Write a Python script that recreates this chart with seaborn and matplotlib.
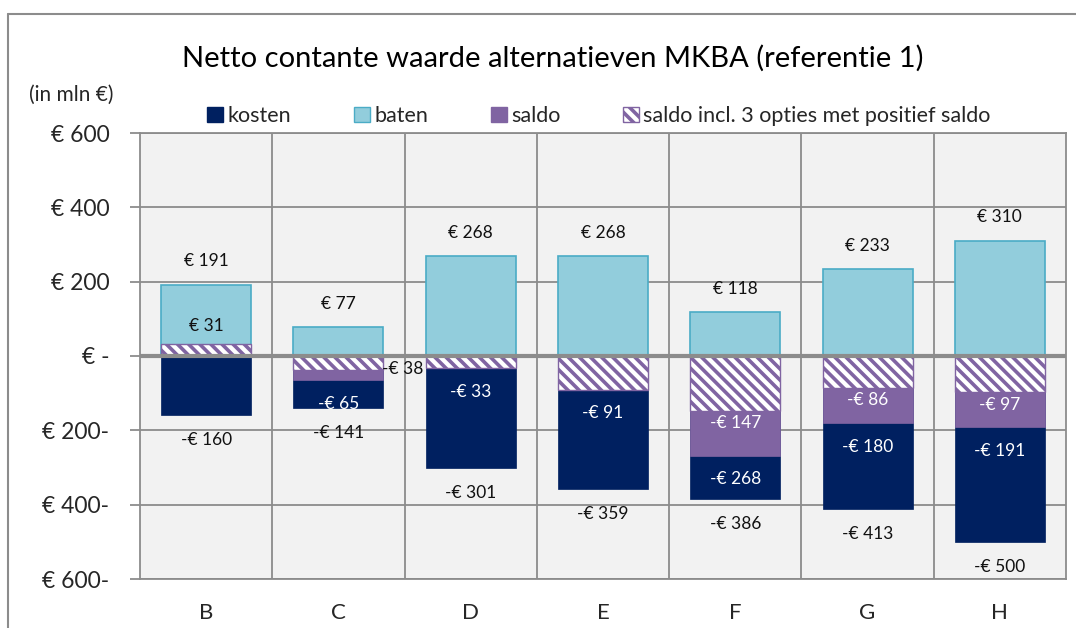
import matplotlib
matplotlib.use("Agg")
import matplotlib.pyplot as plt
import seaborn as sns
import pandas as pd
from matplotlib.patches import Patch
from matplotlib.lines import Line2D
from matplotlib.ticker import FixedLocator, FuncFormatter

categories = ["B", "C", "D", "E", "F", "G", "H"]
kosten = [-160, -141, -301, -359, -386, -413, -500]
baten = [191, 77, 268, 268, 118, 233, 310]
saldo = [31, -65, -33, -91, -268, -180, -191]
saldo_opties = [31, -38, -33, -91, -147, -86, -97]
yticks = [600, 400, 200, 0, -200, -400, -600]

sns.set_theme(style="white")
plt.rcParams['font.family'] = ['Lato', 'DejaVu Sans']
plt.rcParams['hatch.linewidth'] = 2.6
plt.rcParams['hatch.color'] = '#8064A2'

NAVY = '#002060'
LBLUE = '#92CDDC'
LBLUE_E = '#4BACC6'
PURPLE = '#8064A2'
GRID = '#8c8c8c'

fig = plt.figure(figsize=(10.76, 6.28), dpi=100)
ax = fig.add_axes([140/1076, 1-579/628, (1066-140)/1076, (579-133)/628])
ax.set_facecolor('#F2F2F2')

df = pd.DataFrame({"cat": categories, "kosten": kosten, "baten": baten,
                   "saldo": saldo, "opties": saldo_opties})
W = 0.68
sns.barplot(data=df, x="cat", y="baten", color=LBLUE, width=W, ax=ax,
            saturation=1, edgecolor=LBLUE_E, linewidth=1.2, zorder=3)
sns.barplot(data=df, x="cat", y="kosten", color=NAVY, width=W, ax=ax,
            saturation=1, edgecolor=NAVY, linewidth=0.5, zorder=3)
sns.barplot(data=df, x="cat", y="saldo", color=PURPLE, width=W, ax=ax,
            saturation=1, edgecolor=PURPLE, linewidth=0.5, zorder=3)
sns.barplot(data=df, x="cat", y="opties", color='white', width=W, ax=ax,
            saturation=1, edgecolor=PURPLE, linewidth=1.0, zorder=3)
for p in ax.containers[3]:
    p.set_hatch('\\\\\\')
    p.set_facecolor('white')
    p.set_edgecolor(PURPLE)

ax.set_ylim(-600, 600)
ax.set_xlim(-0.5, len(categories) - 0.5)

ax.yaxis.set_major_locator(FixedLocator(yticks))
def fmt(v, pos):
    v = int(round(v))
    if v > 0:
        return f"€ {v}"
    if v == 0:
        return "€ -"
    return f"€ {abs(v)}-"
ax.yaxis.set_major_formatter(FuncFormatter(fmt))
ax.set_xticks(range(len(categories)))
ax.set_xticklabels(categories)
ax.set_xticks([i + 0.5 for i in range(len(categories) - 1)], minor=True)
ax.grid(axis='y', which='major', color=GRID, linewidth=1.3, zorder=1)
ax.grid(axis='x', which='minor', color=GRID, linewidth=1.3, zorder=1)
ax.grid(axis='x', which='major', visible=False)
ax.set_axisbelow(True)
ax.axhline(0, color=GRID, linewidth=3, zorder=4)
ax.tick_params(axis='y', which='major', length=7, width=1.3, color=GRID,
               labelsize=16.5, pad=15, left=True)
ax.tick_params(axis='x', which='both', length=0, labelsize=16, pad=17)
for s in ax.spines.values():
    s.set_color(GRID)
    s.set_linewidth(1.3)
ax.set_xlabel("")
ax.set_ylabel("")

def lab(i, v, off, color):
    txt = f"€ {v}" if v > 0 else f"-€ {abs(v)}"
    ax.annotate(txt, (i, v), xytext=(0, off), textcoords='offset points',
                ha='center', va='center', fontsize=12.5, color=color, zorder=6)

for i, v in enumerate(baten):
    lab(i, v, 17, '#111111')
for i, v in enumerate(kosten):
    lab(i, v, -18, '#111111')
for i, (s, o) in enumerate(zip(saldo, saldo_opties)):
    if s != o:
        lab(i, s, -17, 'white')
for i, o in enumerate(saldo_opties):
    if o > 0:
        lab(i, o, 13, '#111111')
    elif i == 1:
        ax.annotate(f"-€ {abs(o)}", (i + W / 2, o), xytext=(-1, 1),
                    textcoords='offset points', ha='left', va='center',
                    fontsize=12.5, color='#111111', zorder=6)
    else:
        off = -9 if saldo[i] != o else -17
        lab(i, o, off, 'white')

fig.text(553/1076, 1 - 58/628, "Netto contante waarde alternatieven MKBA (referentie 1)",
         ha='center', va='center', fontsize=21, color='black')
fig.text(71/1076, 1 - 95/628, "(in mln €)", ha='center', va='center', fontsize=15)

handles = [Patch(facecolor=NAVY, edgecolor=NAVY),
           Patch(facecolor=LBLUE, edgecolor=LBLUE_E),
           Patch(facecolor=PURPLE, edgecolor=PURPLE),
           Patch(facecolor='white', edgecolor=PURPLE, hatch='\\\\\\')]
labels = ["kosten", "baten", "saldo", "saldo incl. 3 opties met positief saldo"]
fig.legend(handles, labels, loc='center', bbox_to_anchor=(599/1076, 1 - 116/628),
           ncol=4, frameon=False, fontsize=15.5, handlelength=0.75, handleheight=0.75,
           handletextpad=0.2, columnspacing=2.9, borderpad=0)

fig.add_artist(Line2D([8/1076, 8/1076], [0, 1 - 14/628], color=GRID, linewidth=1.5,
                      transform=fig.transFigure))
fig.add_artist(Line2D([8/1076, 1], [1 - 14/628, 1 - 14/628], color=GRID, linewidth=1.5,
                      transform=fig.transFigure))

fig.savefig("out.png", dpi=100)
